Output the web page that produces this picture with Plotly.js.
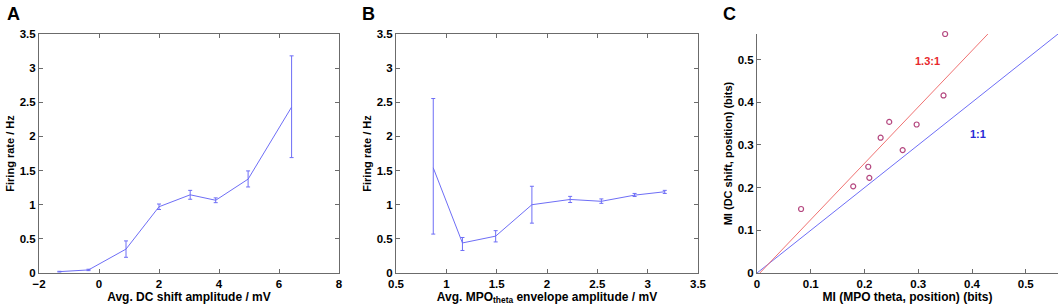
<!DOCTYPE html>
<html>
<head>
<meta charset="utf-8">
<script src="https://cdn.plot.ly/plotly-3.0.1.min.js"></script>
<style>html,body{margin:0;padding:0;background:#fff;}#chart{width:1063px;height:307px;}</style>
</head>
<body>
<div id="chart"></div>
<script>
// ---- Panel A: firing rate vs DC shift amplitude ----
const aX = [-1.32, -0.35, 0.9, 2.0, 3.04, 3.89, 4.97, 6.42];
const aY = [0.02, 0.045, 0.35, 0.97, 1.145, 1.065, 1.375, 2.43];
const aErrUp = [0.005, 0.01, 0.12, 0.04, 0.065, 0.035, 0.12, 0.75];
const aErrDown = [0.005, 0.01, 0.12, 0.04, 0.065, 0.035, 0.115, 0.74];

// ---- Panel B: firing rate vs MPO theta envelope amplitude ----
const bX = [0.87, 1.16, 1.49, 1.85, 2.23, 2.54, 2.87, 3.17];
const bY = [1.54, 0.44, 0.54, 1.0, 1.077, 1.05, 1.14, 1.19];
const bErrUp = [1.015, 0.08, 0.08, 0.27, 0.045, 0.035, 0.025, 0.02];
const bErrDown = [0.97, 0.11, 0.085, 0.27, 0.045, 0.03, 0.02, 0.025];

// ---- Panel C: MI comparison ----
const cX = [0.082, 0.179, 0.207, 0.209, 0.230, 0.246, 0.271, 0.297, 0.347, 0.350];
const cY = [0.150, 0.203, 0.249, 0.223, 0.317, 0.354, 0.288, 0.348, 0.416, 0.560];
const fitSlope = 1.32;
const fitIntercept = -0.007;
const identitySlope = 1;

const aXTicks = [-2, 0, 2, 4, 6, 8];
const rateTicks = [0, 0.5, 1, 1.5, 2, 2.5, 3, 3.5];
const bXTicks = [0.5, 1, 1.5, 2, 2.5, 3, 3.5];
const cTicks = [0, 0.1, 0.2, 0.3, 0.4, 0.5];

const cMax = 0.56;

const BLUE = '#6e6ef6';
const RED = '#f07272';
const MARK = '#b4477f';
const FONT = 'Liberation Sans, Arial, sans-serif';

function errBar(up, down) {
  return {type: 'data', symmetric: false, array: up, arrayminus: down,
          color: BLUE, thickness: 1, width: 2};
}

const traces = [
  {x: aX, y: aY, error_y: errBar(aErrUp, aErrDown), mode: 'lines', type: 'scatter',
   line: {color: BLUE, width: 1}, xaxis: 'x', yaxis: 'y', hoverinfo: 'skip'},
  {x: bX, y: bY, error_y: errBar(bErrUp, bErrDown), mode: 'lines', type: 'scatter',
   line: {color: BLUE, width: 1}, xaxis: 'x2', yaxis: 'y2', hoverinfo: 'skip'},
  // 1:1 line
  {x: [0, cMax / identitySlope], y: [0, cMax], mode: 'lines', type: 'scatter',
   line: {color: BLUE, width: 1}, xaxis: 'x3', yaxis: 'y3', hoverinfo: 'skip'},
  // 1.3:1 fit line
  {x: [(0 - fitIntercept) / fitSlope, (cMax - fitIntercept) / fitSlope], y: [0, cMax],
   mode: 'lines', type: 'scatter',
   line: {color: RED, width: 1}, xaxis: 'x3', yaxis: 'y3', hoverinfo: 'skip'},
  {x: cX, y: cY, mode: 'markers', type: 'scatter', cliponaxis: false,
   marker: {symbol: 'circle-open', size: 5, color: MARK, line: {width: 1.2, color: MARK}},
   xaxis: 'x3', yaxis: 'y3', hoverinfo: 'skip'}
];

const tickFont = {family: FONT, size: 11.5, color: '#000', weight: 'bold'};
const xTitleFont = {family: FONT, size: 12, color: '#000', weight: 'bold'};
const yTitleFont = {family: FONT, size: 11, color: '#000', weight: 'bold'};

function axis(opts) {
  return Object.assign({
    showgrid: false, zeroline: false, showline: true, linecolor: '#6b6b6b', linewidth: 1,
    ticks: 'inside', ticklen: 4, tickcolor: '#6b6b6b', tickwidth: 1,
    mirror: 'allticks', tickfont: tickFont, fixedrange: true
  }, opts);
}

const W = 1063, L = 39, R = 5;
const PW = W - L - R;
function dom(x0, x1) { return [(x0 - L) / PW, (x1 - L) / PW]; }

const layout = {
  width: 1063, height: 307,
  margin: {l: L, r: R, t: 34, b: 34},
  paper_bgcolor: '#fff', plot_bgcolor: '#fff',
  showlegend: false,
  xaxis: axis({domain: dom(39, 339), range: [-2, 8], tickvals: aXTicks, anchor: 'y',
    title: {text: 'Avg. DC shift amplitude / mV', font: xTitleFont, standoff: 1}}),
  yaxis: axis({domain: [0, 1], range: [0, 3.5], tickvals: rateTicks, anchor: 'x',
    title: {text: 'Firing rate / Hz', font: yTitleFont, standoff: 2}}),
  xaxis2: axis({domain: dom(396, 698), range: [0.5, 3.5], tickvals: bXTicks, anchor: 'y2',
    title: {text: 'Avg. MPO<sub>theta</sub> envelope amplitude / mV', font: xTitleFont, standoff: 1}}),
  yaxis2: axis({domain: [0, 1], range: [0, 3.5], tickvals: rateTicks, anchor: 'x2',
    title: {text: 'Firing rate / Hz', font: yTitleFont, standoff: 2}}),
  xaxis3: axis({domain: dom(757, 1058), range: [0, cMax], tickvals: cTicks, anchor: 'y3',
    mirror: false, title: {text: 'MI (MPO theta, position) (bits)', font: xTitleFont, standoff: 1}}),
  yaxis3: axis({domain: [0, 1], range: [0, cMax], tickvals: cTicks, anchor: 'x3',
    mirror: false, title: {text: 'MI (DC shift, position) (bits)', font: yTitleFont, standoff: 2}}),
  annotations: [
    {text: 'A', xref: 'paper', yref: 'paper', x: (5 - L) / PW, y: 1 + (34 - 14) / 239,
     xanchor: 'left', yanchor: 'middle', showarrow: false,
     font: {family: FONT, size: 18, color: '#000', weight: 'bold'}},
    {text: 'B', xref: 'paper', yref: 'paper', x: (360 - L) / PW, y: 1 + (34 - 14) / 239,
     xanchor: 'left', yanchor: 'middle', showarrow: false,
     font: {family: FONT, size: 18, color: '#000', weight: 'bold'}},
    {text: 'C', xref: 'paper', yref: 'paper', x: (721 - L) / PW, y: 1 + (34 - 14) / 239,
     xanchor: 'left', yanchor: 'middle', showarrow: false,
     font: {family: FONT, size: 18, color: '#000', weight: 'bold'}},
    {text: '1.3:1', xref: 'x3', yref: 'y3', x: 0.318, y: 0.497, showarrow: false,
     font: {family: FONT, size: 11, color: '#e8282c', weight: 'bold'}},
    {text: '1:1', xref: 'x3', yref: 'y3', x: 0.412, y: 0.325, showarrow: false,
     font: {family: FONT, size: 11, color: '#2a2ad6', weight: 'bold'}}
  ]
};

Plotly.newPlot('chart', traces, layout, {displayModeBar: false, staticPlot: true});
</script>
</body>
</html>
